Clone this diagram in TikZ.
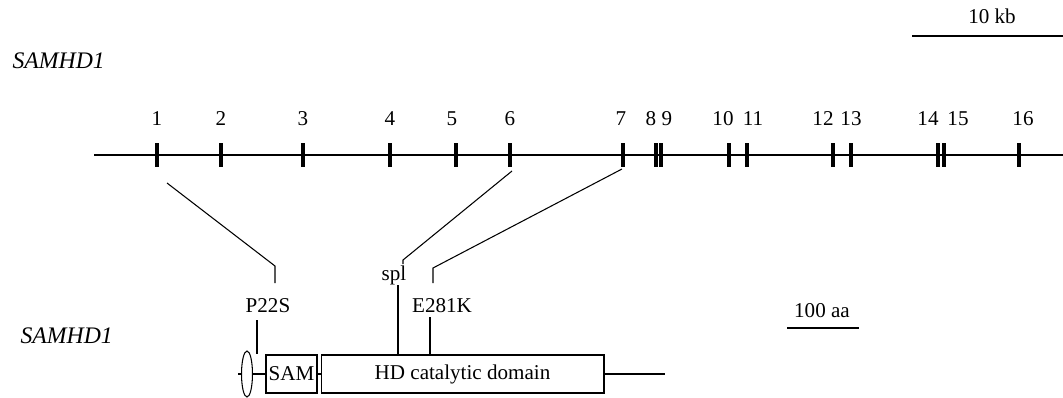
\documentclass[tikz,border=0pt]{standalone}
\usepackage{fontspec}
\setmainfont{Liberation Serif}
\usetikzlibrary{shapes.geometric,calc}

\begin{document}
\begin{tikzpicture}[
      x=0.02cm, y=-0.02cm,
      line width=0.6pt,
      every node/.append style={font=\fontsize{12}{14}\selectfont},
      lbl/.style={anchor=base, inner sep=0pt},
      gname/.style={anchor=base west, inner sep=0pt,
        font=\fontsize{13.5}{15}\selectfont\itshape},
      exon/.style={line width=1.8pt},
      link/.style={line width=0.6pt},
      dom/.style={draw, rectangle, inner sep=0pt, minimum height=0.76cm},
      tm/.style={draw, ellipse, inner sep=0pt,
        minimum width=0.22cm, minimum height=0.92cm}
    ]
      \useasboundingbox (0,0) rectangle (1063,397);

      % gene
      \node[gname] (gene) at (12,68) {SAMHD1};
      \coordinate (gl) at (94,155);
      \coordinate (gr) at (1063,155);
      \draw (gl) -- (gr);
      \foreach \i/\x/\lx in {1/157/157, 2/221/221, 3/303/303, 4/390/390,
          5/456/452, 6/510/510, 7/623/621, 8/656/651, 9/661/667,
          10/729/723, 11/747/753, 12/833/823, 13/851/851, 14/938/928,
          15/944/958, 16/1019/1023} {
        \coordinate (e\i) at (\x,155);
        \draw[exon] (e\i) ++(0,-12) -- ++(0,24);
        \node[lbl] (n\i) at (\lx,125) {\i};
      }

      % scale bars
      \node[lbl] (kb) at (992,23) {10 kb};
      \coordinate (kbl) at (912,36);
      \coordinate (kbr) at (1063,36);
      \draw (kbl) -- (kbr);
      \node[lbl] (aa) at (822,317) {100 aa};
      \coordinate (aal) at (787,328);
      \coordinate (aar) at (859,328);
      \draw (aal) -- (aar);

      % protein
      \node[gname] (prot) at (20,343) {SAMHD1};
      \node[tm] (tm) at (247,374) {};
      \node[dom, minimum width=1.02cm] (sam) at (291.5,374) {SAM};
      \node[dom, minimum width=5.66cm] (hd) at (462.5,374) {HD catalytic domain};
      \coordinate (nterm) at (238,374);
      \coordinate (cterm) at (665,374);
      \draw (nterm) -- (tm.west);
      \draw (tm.east) -- (sam.west);
      \draw (sam.east) -- (hd.west);
      \draw (hd.east) -- (cterm);

      % mutations
      \node[lbl] (p22s) at (268,312) {P22S};
      \node[lbl] (spl) at (394,280) {spl};
      \node[lbl] (e281k) at (442,312) {E281K};
      \coordinate (t1) at (257,320);
      \coordinate (t2) at (398,285);
      \coordinate (t3) at (430,317);
      \draw (t1) -- (t1 |- hd.north);
      \draw (t2) -- (t2 |- hd.north);
      \draw (t3) -- (t3 |- hd.north);

      % exon links
      \coordinate (s1) at (167,183);
      \coordinate (k1) at (275,266);
      \coordinate (b1) at (275,283);
      \coordinate (s6) at (512,171);
      \coordinate (k6) at (403,260);
      \coordinate (b6) at (403,264);
      \coordinate (s7) at (622,169);
      \coordinate (k7) at (433,268);
      \coordinate (b7) at (433,283);
      \draw[link] (s1) -- (k1) -- (b1);
      \draw[link] (s6) -- (k6) -- (b6);
      \draw[link] (s7) -- (k7) -- (b7);
    \end{tikzpicture}
\end{document}
